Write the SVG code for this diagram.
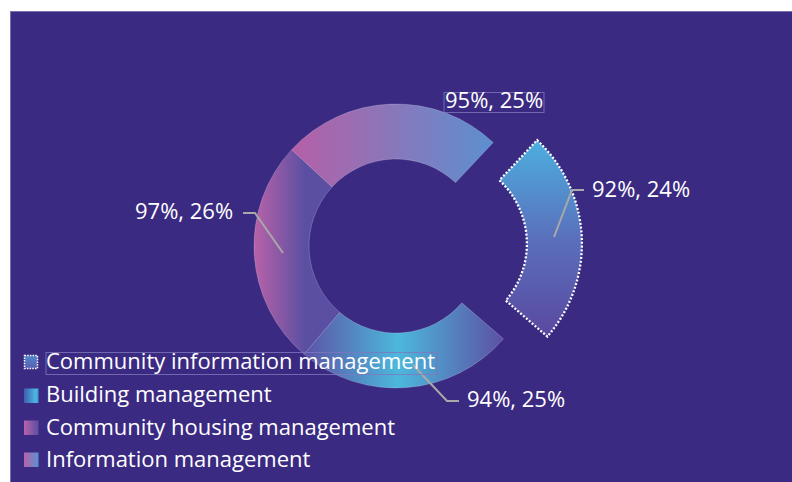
<svg xmlns="http://www.w3.org/2000/svg" width="792" height="482" viewBox="0 0 792 482">
  <style>
    .lbl { font-family: "Open Sans", "Liberation Sans", sans-serif; font-size: 22px; fill: #ffffff; }
    .seg { stroke: #ffffff; stroke-opacity: 0.25; stroke-width: 0.8; }
    .lead { fill: none; stroke: #a9a9a9; stroke-width: 2; }
    .box { fill: none; stroke: #8077bd; stroke-opacity: 0.8; stroke-width: 1; }
  </style>
  <defs>
    <linearGradient id="gTop" gradientUnits="userSpaceOnUse" x1="291" y1="0" x2="496" y2="0">
      <stop offset="0" stop-color="#b65fa6"/>
      <stop offset="1" stop-color="#5b90d0"/>
    </linearGradient>
    <linearGradient id="gLeft" gradientUnits="userSpaceOnUse" x1="254" y1="0" x2="340" y2="0">
      <stop offset="0" stop-color="#b862a8"/>
      <stop offset="0.6" stop-color="#5a4fa2"/>
      <stop offset="1" stop-color="#5a4fa2"/>
    </linearGradient>
    <linearGradient id="gBottom" gradientUnits="userSpaceOnUse" x1="304" y1="0" x2="504" y2="0">
      <stop offset="0" stop-color="#5c52a6"/>
      <stop offset="0.47" stop-color="#4cb8dc"/>
      <stop offset="1" stop-color="#5c50a4"/>
    </linearGradient>
    <linearGradient id="gExp" gradientUnits="userSpaceOnUse" x1="0" y1="140" x2="0" y2="340">
      <stop offset="0" stop-color="#4cb0e0"/>
      <stop offset="0.5" stop-color="#5a70bc"/>
      <stop offset="1" stop-color="#5a48a0"/>
    </linearGradient>
    <linearGradient id="sw1" x1="0" y1="0" x2="0" y2="1">
      <stop offset="0" stop-color="#4f88cc"/>
      <stop offset="1" stop-color="#5a5eb0"/>
    </linearGradient>
    <linearGradient id="sw2" x1="0" y1="0" x2="1" y2="0">
      <stop offset="0" stop-color="#3d5db3"/>
      <stop offset="0.8" stop-color="#4cb8e0"/>
      <stop offset="1" stop-color="#4a95d4"/>
    </linearGradient>
    <linearGradient id="sw3" x1="0" y1="0" x2="1" y2="0">
      <stop offset="0" stop-color="#b862a8"/>
      <stop offset="1" stop-color="#5a4ea2"/>
    </linearGradient>
    <linearGradient id="sw4" x1="0" y1="0" x2="1" y2="0">
      <stop offset="0" stop-color="#b862a8"/>
      <stop offset="1" stop-color="#5a90d0"/>
    </linearGradient>
  </defs>

  <rect x="0" y="0" width="792" height="482" fill="#ffffff"/>
  <rect x="10.5" y="11.5" width="790" height="480" fill="#3b2a82" stroke="#7a70b4" stroke-width="1"/>

  <g id="seg-community-information">
    <path transform="translate(43.9,-2.3)" fill="url(#gExp)" stroke="#ffffff" stroke-width="2.3" stroke-dasharray="2 1.8"
      d="M493.21,142.49 A142,142 0 0 1 503.46,338.82 L461.84,302.87 A87,87 0 0 0 455.56,182.58 Z"/>
  </g>
  <g id="seg-building">
    <path class="seg" fill="url(#gBottom)"
      d="M503.46,338.82 A142,142 0 0 1 304.08,354.24 L339.68,312.31 A87,87 0 0 0 461.84,302.87 Z"/>
  </g>
  <g id="seg-community-housing">
    <path class="seg" fill="url(#gLeft)"
      d="M304.08,354.24 A142,142 0 0 1 291.68,149.66 L332.08,186.98 A87,87 0 0 0 339.68,312.31 Z"/>
  </g>
  <g id="seg-information">
    <path class="seg" fill="url(#gTop)"
      d="M291.68,149.66 A142,142 0 0 1 493.21,142.49 L455.56,182.58 A87,87 0 0 0 332.08,186.98 Z"/>
  </g>

  <g id="connectors">
    <polyline class="lead" points="554,237 572,190 584,190"/>
    <polyline class="lead" points="283,253 255,213 243,213"/>
    <polyline class="lead" points="413,365 447,401 459,401"/>
  </g>

  <g id="label-92">
    <text class="lbl" x="592" y="197">92%, 24%</text>
  </g>
  <g id="label-97">
    <text class="lbl" x="135" y="219">97%, 26%</text>
  </g>
  <g id="label-94">
    <text class="lbl" x="467" y="407">94%, 25%</text>
  </g>
  <g id="label-95">
    <rect class="box" x="444" y="92.5" width="100" height="20"/>
    <text class="lbl" x="445" y="108">95%, 25%</text>
  </g>

  <g id="legend">
    <g id="legend-community-information">
      <rect x="24.5" y="355.5" width="13" height="13" fill="url(#sw1)" stroke="#ffffff" stroke-width="1.5" stroke-dasharray="1.5 1.2"/>
      <rect class="box" x="46" y="352.5" width="391" height="22"/>
      <text class="lbl" x="46" y="369" textLength="389">Community information management</text>
    </g>
    <g id="legend-building">
      <rect x="24" y="388.5" width="14.5" height="14.5" fill="url(#sw2)"/>
      <text class="lbl" x="46" y="402">Building management</text>
    </g>
    <g id="legend-community-housing">
      <rect x="24" y="420.5" width="14.5" height="14.5" fill="url(#sw3)"/>
      <text class="lbl" x="46" y="435">Community housing management</text>
    </g>
    <g id="legend-information">
      <rect x="24" y="452.5" width="14.5" height="14.5" fill="url(#sw4)"/>
      <text class="lbl" x="46" y="467">Information management</text>
    </g>
  </g>
</svg>
